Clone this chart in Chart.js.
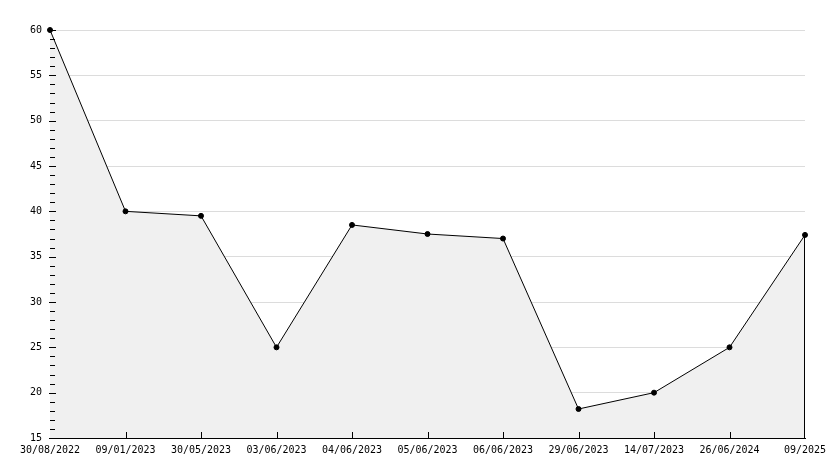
<!DOCTYPE html>
<html>
<head>
<meta charset="utf-8">
<script src="https://cdn.jsdelivr.net/npm/chart.js@4/dist/chart.umd.min.js"></script>
<style>
  html, body { margin: 0; padding: 0; background: #fff; }
  #box { width: 834px; height: 468px; }
</style>
</head>
<body>
<div id="box"><canvas id="grafico"></canvas></div>
<script>
// datos
const fechas = ["30/08/2022", "09/01/2023", "30/05/2023", "03/06/2023", "04/06/2023",
    "05/06/2023", "06/06/2023", "29/06/2023", "14/07/2023", "26/06/2024", "09/2025"];
const valores = [60, 40, 39.5, 25, 38.5, 37.5, 37, 18.2, 20, 25, 37.4];
const yMin = 15;
const yMax = 60;
const yPaso = 5;

// ticks hacia dentro del area + borde derecho del relleno
const ticksDentro = {
    id: 'ticksDentro',
    afterDatasetsDraw(chart) {
        const ctx = chart.ctx;
        const y = chart.scales.y;
        const x = chart.scales.x;
        const area = chart.chartArea;
        ctx.save();
        ctx.strokeStyle = '#000';
        ctx.lineWidth = 1;
        ctx.beginPath();
        for (let v = yMin; v <= yMax; v++) {
            const py = Math.round(y.getPixelForValue(v)) + 0.5;
            if (v % yPaso === 0) {
                ctx.moveTo(area.left - 1, py);
                ctx.lineTo(area.left + 6, py);
            } else {
                ctx.moveTo(area.left, py);
                ctx.lineTo(area.left + 5, py);
            }
        }
        for (let i = 1; i < fechas.length - 1; i++) {
            const px = Math.round(x.getPixelForValue(i)) + 0.5;
            ctx.moveTo(px, area.bottom);
            ctx.lineTo(px, area.bottom - 6);
        }
        // lado derecho del area rellena
        const ult = valores.length - 1;
        const px = Math.round(x.getPixelForValue(ult)) - 0.5;
        ctx.moveTo(px, y.getPixelForValue(valores[ult]));
        ctx.lineTo(px, area.bottom);
        ctx.stroke();
        ctx.restore();
    }
};

new Chart(document.getElementById("grafico"), {
    type: 'line',
    data: {
        labels: fechas,
        datasets: [{
            data: valores,
            borderColor: '#000',
            borderWidth: 1,
            backgroundColor: '#f0f0f0',
            fill: 'start',
            tension: 0,
            pointRadius: 2.5,
            pointBackgroundColor: '#000',
            pointBorderColor: '#000',
            pointBorderWidth: 1,
            clip: false
        }]
    },
    options: {
        responsive: true,
        maintainAspectRatio: false,
        animation: false,
        layout: { padding: { left: 0, top: 30, right: 29, bottom: 0 } },
        plugins: {
            legend: { display: false },
            tooltip: { enabled: false }
        },
        scales: {
            x: {
                offset: false,
                grid: { display: false, drawTicks: false },
                border: { color: '#000', width: 1 },
                ticks: {
                    color: '#000',
                    font: { family: 'DejaVu Sans Mono', size: 10 },
                    padding: 6,
                    maxRotation: 0,
                    autoSkip: false
                },
                afterFit(scale) { scale.height = 30; }
            },
            y: {
                min: yMin,
                max: yMax,
                grid: { color: '#dcdcdc', drawTicks: false },
                border: { color: '#000', width: 1 },
                ticks: {
                    stepSize: yPaso,
                    color: '#000',
                    font: { family: 'DejaVu Sans Mono', size: 10 },
                    padding: 8
                },
                afterFit(scale) { scale.width = 50; }
            }
        }
    },
    plugins: [ticksDentro]
});
</script>
</body>
</html>
